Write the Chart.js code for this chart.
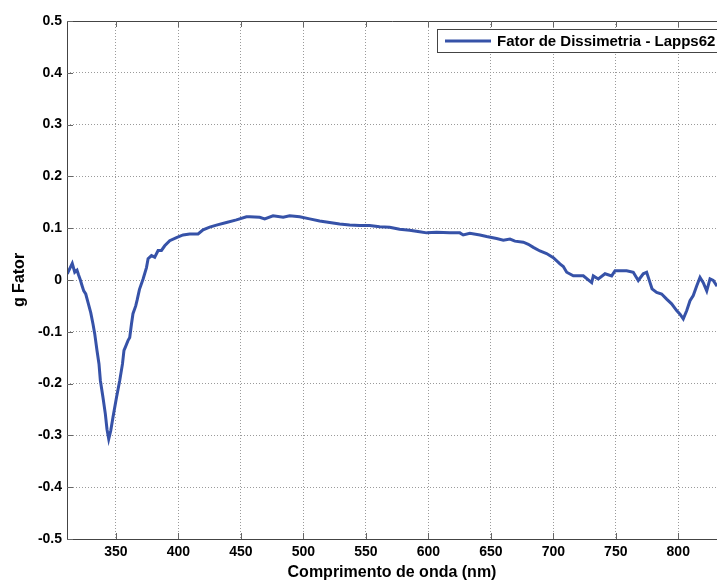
<!DOCTYPE html>
<html>
<head>
<meta charset="utf-8">
<script src="https://cdn.jsdelivr.net/npm/chart.js@4"></script>
<style>
  html, body { margin: 0; padding: 0; background: #fff; }
  #wrap { width: 717px; height: 583px; }
</style>
</head>
<body>
<div id="wrap"><canvas id="gChart"></canvas></div>
<script>
  // wavelengths (nm) and g factor
  const wavelengths = [
    311, 313, 315, 317, 318.8, 320, 321.5, 323, 324.2, 325.8, 327.6, 329.8, 331.6, 333, 334.8,
    336.4, 337.5, 339.6, 341.5, 342.8, 344.2, 345.8, 347.6, 350.4, 353, 355.2, 356.4, 357.6,
    359.6, 361, 362.4, 363.6, 365.8, 367, 368.8, 371.7, 374.4, 375.7, 378.4, 381, 383.7, 386.4,
    389, 393, 398.4, 403.7, 409, 415.7, 419.7, 425, 430.4, 438.4, 446.4, 454.4, 457, 465, 469,
    475.7, 483.8, 489, 497, 505, 513, 521, 529, 537, 545, 553, 561, 569, 577, 585, 593, 598.6,
    606.6, 617.2, 625.2, 627.9, 633.2, 641.3, 646.6, 654.6, 660, 665.3, 669.3, 676, 680, 684,
    689.3, 694.6, 700, 705.3, 708, 710.7, 716, 724, 730.7, 732, 736, 741.4, 746.7, 749.4, 753.4,
    758.7, 764, 768, 772, 774.7, 777.4, 779, 782.7, 786.7, 790.7, 794.7, 798.7, 801.4, 804,
    806.8, 809.4, 812, 814.8, 817.4, 820, 822.8, 825.4, 828, 831
  ];
  const gFator = [
    0.012, 0.022, 0.032, 0.015, 0.019, 0.010, 0.000, -0.012, -0.021, -0.027, -0.043, -0.063, -0.085, -0.104, -0.136,
    -0.162, -0.194, -0.227, -0.259, -0.288, -0.307, -0.291, -0.265, -0.227, -0.194, -0.162, -0.136, -0.129,
    -0.117, -0.111, -0.085, -0.065, -0.050, -0.038, -0.018, 0.002, 0.024, 0.041, 0.047, 0.044, 0.057, 0.057,
    0.066, 0.076, 0.082, 0.087, 0.089, 0.089, 0.097, 0.102, 0.106, 0.111, 0.116, 0.122, 0.122, 0.121, 0.118,
    0.124, 0.121, 0.124, 0.122, 0.118, 0.114, 0.111, 0.108, 0.106, 0.105, 0.105, 0.103, 0.102, 0.098, 0.096, 0.093, 0.091,
    0.092, 0.091, 0.091, 0.087, 0.090, 0.087, 0.084, 0.080, 0.077, 0.079, 0.075, 0.073, 0.069, 0.063,
    0.056, 0.051, 0.043, 0.031, 0.026, 0.015, 0.008, 0.008, -0.005, 0.008, 0.002, 0.012, 0.008, 0.018, 0.018,
    0.018, 0.015, -0.001, 0.012, 0.015, -0.005, -0.017, -0.024, -0.027, -0.037, -0.046, -0.059, -0.066, -0.075,
    -0.059, -0.040, -0.030, -0.011, 0.005, -0.005, -0.021, 0.002, -0.001, -0.012
  ];
  const xTicks = [350, 400, 450, 500, 550, 600, 650, 700, 750, 800];
  const yTicks = [-0.5, -0.4, -0.3, -0.2, -0.1, 0, 0.1, 0.2, 0.3, 0.4, 0.5];

  const lineColor = '#3652a8';
  const legendLabel = 'Fator de Dissimetria - Lapps62';

  // box, inward tick marks and legend drawn like the original figure
  const axesBox = {
    id: 'axesBox',
    afterDatasetsDraw(chart) {
      const { ctx, chartArea: a, scales: { x, y } } = chart;
      ctx.save();
      ctx.strokeStyle = '#444';
      ctx.lineWidth = 1;
      ctx.beginPath();
      ctx.moveTo(a.left + 0.5, a.bottom + 0.5);
      ctx.lineTo(a.left + 0.5, a.top + 0.5);
      ctx.lineTo(a.right, a.top + 0.5);
      ctx.moveTo(a.left, a.bottom + 0.5);
      ctx.lineTo(a.right, a.bottom + 0.5);
      ctx.stroke();
      ctx.strokeStyle = '#666';
      ctx.beginPath();
      xTicks.forEach(v => {
        const px = Math.round(x.getPixelForValue(v)) + 0.5;
        ctx.moveTo(px, a.bottom);
        ctx.lineTo(px, a.bottom - 6);
        ctx.moveTo(px, a.top);
        ctx.lineTo(px, a.top + 6);
      });
      yTicks.forEach(v => {
        const py = Math.round(y.getPixelForValue(v)) + 0.5;
        ctx.moveTo(a.left, py);
        ctx.lineTo(a.left + 6, py);
      });
      ctx.stroke();
      ctx.restore();
    },
    afterDraw(chart) {
      const { ctx } = chart;
      ctx.save();
      ctx.fillStyle = '#fff';
      ctx.fillRect(437, 29.5, 290, 23);
      ctx.strokeStyle = '#444';
      ctx.lineWidth = 1;
      ctx.strokeRect(437.5, 29.5, 290, 23);
      ctx.strokeStyle = lineColor;
      ctx.lineWidth = 3;
      ctx.beginPath();
      ctx.moveTo(445, 41);
      ctx.lineTo(491, 41);
      ctx.stroke();
      ctx.fillStyle = '#000';
      ctx.font = 'bold 15px "Liberation Sans", Arial, sans-serif';
      ctx.textBaseline = 'middle';
      ctx.fillText(legendLabel, 497, 41.5);
      ctx.restore();
    }
  };

  const tickFont = { family: '"Liberation Sans", Arial, sans-serif', size: 14, weight: 'bold' };
  const titleFont = { family: '"Liberation Sans", Arial, sans-serif', size: 16, weight: 'bold' };

  new Chart(document.getElementById('gChart'), {
    type: 'line',
    data: {
      datasets: [{
        label: legendLabel,
        data: wavelengths.map((w, i) => ({ x: w, y: gFator[i] })),
        borderColor: lineColor,
        borderWidth: 3,
        pointRadius: 0,
        tension: 0,
        fill: false
      }]
    },
    options: {
      responsive: true,
      maintainAspectRatio: false,
      animation: false,
      layout: { padding: { top: 21, right: 0, left: 0, bottom: 0 } },
      plugins: {
        legend: { display: false },
        tooltip: { enabled: false }
      },
      scales: {
        x: {
          type: 'linear',
          min: 310.8,
          max: 831,
          afterBuildTicks: s => { s.ticks = xTicks.map(v => ({ value: v })); },
          afterFit: s => { s.height = 44; },
          ticks: { color: '#000', font: tickFont, padding: 5, maxRotation: 0 },
          grid: { color: '#9a9a9a', drawTicks: false, lineWidth: 1 },
          border: { display: false, dash: [1, 2] },
          title: { display: true, text: 'Comprimento de onda (nm)', color: '#000', font: titleFont, padding: { top: 0, bottom: 1 } }
        },
        y: {
          min: -0.5,
          max: 0.5,
          afterBuildTicks: s => { s.ticks = yTicks.map(v => ({ value: v })); },
          afterFit: s => { s.width = 67; },
          ticks: { color: '#000', font: tickFont, padding: 5, callback: v => String(Math.round(v * 10) / 10) },
          grid: { color: '#9a9a9a', drawTicks: false, lineWidth: 1 },
          border: { display: false, dash: [1, 2] },
          title: { display: true, text: 'g Fator', color: '#000', font: titleFont, padding: { top: 10, bottom: 0 } }
        }
      }
    },
    plugins: [axesBox]
  });
</script>
</body>
</html>
